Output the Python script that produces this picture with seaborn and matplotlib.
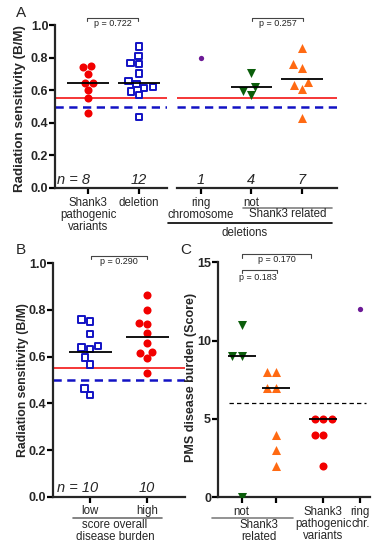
import matplotlib.pyplot as plt
import pandas as pd
import seaborn as sns
from matplotlib.lines import Line2D

# ---- values ----
# panel A: radiation sensitivity (B/M) per group
a_shank3 = [0.75, 0.74, 0.70, 0.645, 0.645, 0.60, 0.55, 0.46]
a_deletion = [0.867, 0.81, 0.765, 0.759, 0.703, 0.658, 0.638, 0.621,
              0.612, 0.591, 0.571, 0.434]
a_ring = [0.80]
a_not_shank3 = [0.703, 0.621, 0.597, 0.571]
a_other_del = [0.857, 0.759, 0.738, 0.652, 0.632, 0.607, 0.431]
a_means = [0.643, 0.647, 0.618, 0.671]   # black bars as drawn
a_left_labels = ["Shank3\npathogenic\nvariants", "deletion"]
a_right_labels = ["ring\nchromosome", "not", ""]
a_n = ["n = 8", "12", "1", "4", "7"]
a_pvals = ["p = 0.722", "p = 0.257"]

# panel B: radiation sensitivity by disease burden score
b_low = [0.76, 0.75, 0.697, 0.646, 0.639, 0.634, 0.597, 0.567, 0.464, 0.436]
b_high = [0.864, 0.80, 0.743, 0.74, 0.70, 0.66, 0.62, 0.614, 0.593, 0.531]
b_means = [0.621, 0.686]
b_labels = ["low", "high"]
b_n = ["n = 10", "10"]
b_pval = "p = 0.290"

# panel C: PMS disease burden score
c_not_shank3 = [11, 9, 9, 0]
c_other_del = [8, 8, 7, 7, 4, 3, 2]
c_shank3 = [5, 5, 5, 4, 4, 2]
c_ring = [12]
c_medians = [9, 7, 5]
c_pos = [0, 1, 2.36, 3.43]
c_labels = ["not", "", "Shank3\npathogenic\nvariants", "ring\nchr."]
c_pvals = ["p = 0.170", "p = 0.183"]

sens_ref = 0.55      # red line
ctrl_ref = 0.50      # blue dashed line
burden_cut = 6       # black dashed line

RED, BLUE, GREEN = "#f20000", "#1212c4", "#0b5e0b"
ORANGE, PURPLE = "#ff6a13", "#6c1a96"

sns.set_style("ticks")
plt.rcParams["font.family"] = ["Liberation Sans", "DejaVu Sans"]

W, H = 386, 550
fig = plt.figure(figsize=(W / 100, H / 100), dpi=100)


def box(x0, y0, x1, y1):
    # pixel box -> figure rect
    return [x0 / W, 1 - y1 / H, (x1 - x0) / W, (y1 - y0) / H]


def ftext(x, y, s, **kw):
    kw.setdefault("ha", "center")
    kw.setdefault("va", "center")
    fig.text(x / W, 1 - y / H, s, **kw)


def fline(x0, x1, y, color="black", lw=1.0):
    fig.add_artist(Line2D([x0 / W, x1 / W], [1 - y / H, 1 - y / H],
                          transform=fig.transFigure, color=color, lw=lw))


def bracket(x0, x1, y, label, ty, tx=None):
    fig.add_artist(Line2D([x0 / W, x0 / W, x1 / W, x1 / W],
                          [1 - (y + 3) / H, 1 - y / H, 1 - y / H, 1 - (y + 3) / H],
                          transform=fig.transFigure, color="#444444", lw=0.8))
    ftext((x0 + x1) / 2 if tx is None else tx, ty, label, fontsize=6.5,
          color="#222222")


def dots(ax, vals, x, color, marker, size, hollow=False):
    d = pd.DataFrame({"x": [x] * len(vals), "y": vals})
    if hollow:
        sns.swarmplot(data=d, x="x", y="y", ax=ax, orient="x", native_scale=True,
                      marker=marker, size=size, color=color, edgecolor=color,
                      linewidth=1.4)
        ax.collections[-1].set_facecolor("none")
    else:
        sns.swarmplot(data=d, x="x", y="y", ax=ax, orient="x", native_scale=True,
                      marker=marker, size=size, color=color, linewidth=0)


def style_axis(ax, left=True):
    sns.despine(ax=ax, left=not left)
    for sp in ax.spines.values():
        sp.set_linewidth(1.6)
    ax.tick_params(axis="both", width=1.6, length=4.3, color="black")
    ax.tick_params(axis="y", pad=0.5, labelsize=9)
    ax.tick_params(axis="x", pad=2, labelsize=8.3)
    ax.set_xlabel("")
    ax.set_ylabel("")
    for lab in ax.get_yticklabels():
        lab.set_fontweight("bold")


# ---------------- panel A ----------------
ax_a1 = fig.add_axes(box(55, 25, 167, 188))
ax_a2 = fig.add_axes(box(177, 25, 337, 188))

dots(ax_a1, a_shank3, 0, RED, "o", 5.8)
dots(ax_a1, a_deletion, 1, BLUE, "s", 4.6, hollow=True)
dots(ax_a2, a_ring, 0, PURPLE, "o", 3.8)
dots(ax_a2, a_not_shank3, 1, GREEN, "v", 6.5)
dots(ax_a2, a_other_del, 2, ORANGE, "^", 6.5)

ax_a1.hlines(a_means[:2], [p - 0.41 for p in (0, 1)], [p + 0.41 for p in (0, 1)],
             color="black", lw=1.3, zorder=4)
ax_a2.hlines(a_means[2:], [p - 0.41 for p in (1, 2)], [p + 0.41 for p in (1, 2)],
             color="black", lw=1.3, zorder=4)

for ax in (ax_a1, ax_a2):
    ax.axhline(sens_ref, color=RED, lw=1.1, zorder=2)
    ax.axhline(ctrl_ref, color=BLUE, lw=1.8, ls=(0, (3.3, 2.2)), zorder=2)
    ax.set_ylim(0, 1.0)
    ax.set_yticks([0, 0.2, 0.4, 0.6, 0.8, 1.0])
    ax.set_yticklabels([f"{v:.1f}" for v in [0, 0.2, 0.4, 0.6, 0.8, 1.0]])

ax_a1.set_xlim(-0.647, 1.549)
ax_a1.set_xticks([0, 1])
ax_a1.set_xticklabels(a_left_labels, linespacing=1.0)
ax_a2.set_xlim(-0.467, 2.69)
ax_a2.set_xticks([0, 1, 2])
ax_a2.set_xticklabels(a_right_labels, linespacing=1.0)
style_axis(ax_a1)
style_axis(ax_a2, left=False)
ax_a2.tick_params(axis="y", left=False, labelleft=False)
ax_a1.set_ylabel("Radiation sensitivity (B/M)", fontweight="bold", fontsize=9.6)
ax_a1.yaxis.set_label_coords(-0.255, 0.49)

nkw = dict(fontsize=10.5, style="italic")
ftext(57, 180, a_n[0], ha="left", **nkw)
for x, s in zip([139, 201, 251, 302], a_n[1:]):
    ftext(x, 180, s, **nkw)

ftext(288, 214, "Shank3 related", fontsize=8.3)
fline(243, 332, 208.3, color="#808080", lw=1.2)
fline(168, 332, 223.3, lw=1.2)
ftext(245, 232.5, "deletions", fontsize=8.3)

bracket(87, 138, 17.5, a_pvals[0], 23.5)
bracket(252, 303, 17.5, a_pvals[1], 23.5)
ftext(21, 13, "A", fontsize=11)

# ---------------- panel B ----------------
ax_b = fig.add_axes(box(53, 263.3, 185, 496.7))
dots(ax_b, b_low, 0, BLUE, "s", 4.6, hollow=True)
dots(ax_b, b_high, 1, RED, "o", 5.8)
ax_b.hlines(b_means, [p - 0.36 for p in (0, 1)], [p + 0.38 for p in (0, 1)],
            color="black", lw=1.3, zorder=4)
ax_b.axhline(sens_ref, color=RED, lw=1.1, zorder=2)
ax_b.axhline(ctrl_ref, color=BLUE, lw=1.8, ls=(0, (3.3, 2.2)), zorder=2)
ax_b.set_ylim(0, 1.0)
ax_b.set_yticks([0, 0.2, 0.4, 0.6, 0.8, 1.0])
ax_b.set_yticklabels([f"{v:.1f}" for v in [0, 0.2, 0.4, 0.6, 0.8, 1.0]])
ax_b.set_xlim(-0.649, 1.667)
ax_b.set_xticks([0, 1])
ax_b.set_xticklabels(b_labels)
style_axis(ax_b)
ax_b.set_ylabel("Radiation sensitivity (B/M)", fontweight="bold", fontsize=8.8)
ax_b.yaxis.set_label_coords(-0.18, 0.5)

ftext(57, 488, b_n[0], ha="left", **nkw)
ftext(147, 488, b_n[1], **nkw)
fline(73, 162, 517.7, color="#707070", lw=1.2)
ftext(115, 531.5, "score overall\ndisease burden", fontsize=8.3, linespacing=1.0)
bracket(91, 147, 256, b_pval, 261.5)
ftext(21, 250, "B", fontsize=11)

# ---------------- panel C ----------------
ax_c = fig.add_axes(box(217.7, 262.3, 370, 497.3))
dots(ax_c, c_not_shank3, c_pos[0], GREEN, "v", 6.5)
dots(ax_c, c_other_del, c_pos[1], ORANGE, "^", 6.5)
dots(ax_c, c_shank3, c_pos[2], RED, "o", 5.8)
dots(ax_c, c_ring, c_pos[3], PURPLE, "o", 3.8)
ax_c.hlines(c_medians, [p - 0.41 for p in c_pos[:3]], [p + 0.41 for p in c_pos[:3]],
            color="black", lw=1.3, zorder=4)
ax_c.axhline(burden_cut, xmin=0.074, xmax=0.972, color="black", lw=0.9,
             ls=(0, (3.5, 2.5)), zorder=2)
ax_c.set_ylim(0, 15)
ax_c.set_yticks([0, 5, 10, 15])
ax_c.set_xlim(-0.694, 3.71)
ax_c.set_xticks(c_pos)
ax_c.set_xticklabels(c_labels, linespacing=1.0)
style_axis(ax_c)
ax_c.set_ylabel("PMS disease burden (Score)", fontweight="bold", fontsize=9)
ax_c.yaxis.set_label_coords(-0.138, 0.51)

fline(212, 293, 517.7, color="#808080", lw=1.2)
ftext(259, 531, "Shank3\nrelated", fontsize=8.3, linespacing=1.0)
bracket(242, 311, 254.5, c_pvals[0], 260)
bracket(242, 277, 269.5, c_pvals[1], 277.5, tx=258)
ftext(186, 250, "C", fontsize=11)

fig.savefig("out.png", dpi=100)
